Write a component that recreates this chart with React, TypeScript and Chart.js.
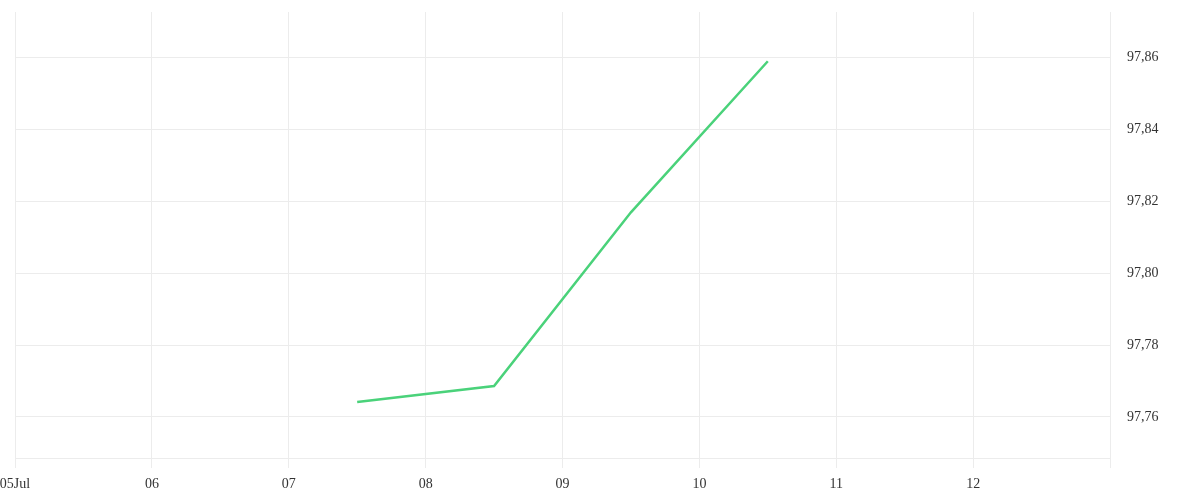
import React, { useEffect, useRef } from "react";
import { Chart, registerables } from "chart.js";

Chart.register(...registerables);

// Day of July (12:00 = .5) for each observation
const obsDays = [7.5, 8.5, 9.5, 10.5];
// Observed values
const obsValues = [97.7642, 97.7686, 97.8169, 97.8589];
// X axis day range and labels
const xDayMin = 5;
const xDayMax = 13;
const monthLabel = "Jul";
const yMin = 97.7486;
const yMax = 97.8726;
const yStep = 0.02;

export default function App() {
  const ref = useRef<HTMLCanvasElement | null>(null);

  useEffect(() => {
    document.body.style.margin = "0";
    const canvas = ref.current;
    if (!canvas) return;
    const font = { family: "'Liberation Serif', 'Times New Roman', serif", size: 14 };
    const chart = new Chart(canvas, {
      type: "line",
      data: {
        datasets: [
          {
            data: obsDays.map((d, i) => ({ x: d, y: obsValues[i] })),
            borderColor: "#4ad27a",
            backgroundColor: "#4ad27a",
            borderWidth: 2.5,
            pointRadius: 0,
            tension: 0,
            fill: false,
          },
        ],
      },
      options: {
        animation: false,
        responsive: false,
        maintainAspectRatio: false,
        layout: { padding: { top: 12, bottom: 8, left: 0, right: 0 } },
        plugins: { legend: { display: false }, tooltip: { enabled: false } },
        scales: {
          x: {
            type: "linear",
            min: xDayMin,
            max: xDayMax,
            grid: { color: "#ececec", tickLength: 10, drawTicks: true },
            border: { color: "#ececec" },
            afterFit: (scale: any) => {
              scale.paddingLeft = 15;
              scale.paddingRight = 0;
              scale.paddingBottom = 0;
              scale.height = 34;
            },
            ticks: {
              stepSize: 1,
              padding: 8,
              color: "#333",
              font,
              maxRotation: 0,
              autoSkip: false,
              callback: (v: any) => {
                const n = Number(v);
                if (n >= xDayMax) return "";
                const s = String(n).padStart(2, "0");
                return n === xDayMin ? s + monthLabel : s;
              },
            },
          },
          y: {
            position: "right",
            min: yMin,
            max: yMax,
            grid: { color: "#ececec", drawTicks: false },
            border: { color: "#ececec" },
            afterFit: (scale: any) => {
              scale.width = 90;
              scale.paddingTop = 0;
              scale.paddingBottom = 0;
            },
            ticks: {
              stepSize: yStep,
              includeBounds: false,
              padding: 17,
              color: "#333",
              font,
              callback: (v: any) => Number(v).toFixed(2).replace(".", ","),
            },
          },
        },
      },
    });
    return () => chart.destroy();
  }, []);

  return (
    <div style={{ width: 1200, height: 500 }}>
      <canvas ref={ref} width={1200} height={500} style={{ display: "block" }} />
    </div>
  );
}
